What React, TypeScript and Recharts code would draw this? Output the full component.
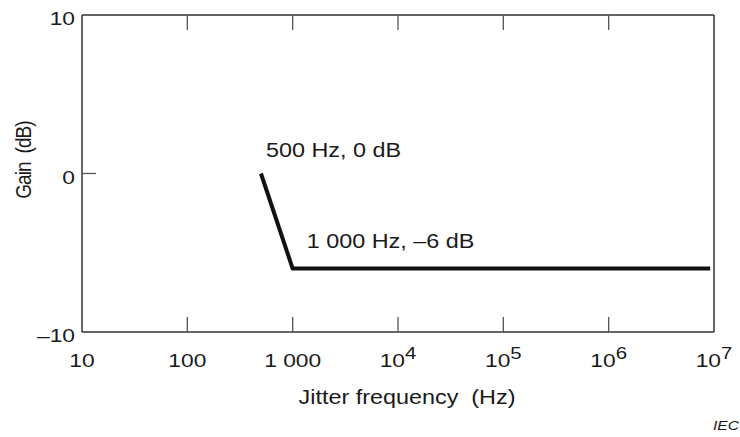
import { LineChart, Line, XAxis, YAxis, ReferenceDot } from "recharts";

// response: 0 dB at 500 Hz, down to -6 dB at 1 kHz, then flat
const freqs = [500, 1000, 9.2e6];
const gains = [0, -6, -6];

const xTicks = [10, 100, 1000, 1e4, 1e5, 1e6, 1e7];
const xTickBase = ["10", "100", "1 000", "10", "10", "10", "10"];
const xTickExp = ["", "", "", "4", "5", "6", "7"];

const yTicks = [-10, 0, 10];
const yTickLabels = ["\u201310", "0", "10"];

const FONT = "'Liberation Sans', Arial, Helvetica, sans-serif";
const INK = "#1a1a1a";
const SX = 1.2; // the source figure is stretched sideways

// plot box edges
const LEFT = 82;
const RIGHT = 714;
const TOP = 15;
const BOTTOM = 332;
const TICK = 15;

const data = freqs.map((f, i) => ({ f, g: gains[i] }));

const SText = ({ x, y, size, anchor = "start", italic = false, children }: any) => (
  <text
    x={0}
    y={0}
    transform={`translate(${x},${y}) scale(${SX},1)`}
    textAnchor={anchor}
    fontFamily={FONT}
    fontSize={size}
    fontStyle={italic ? "italic" : "normal"}
    fill={INK}
    style={{ whiteSpace: "pre" }}
  >
    {children}
  </text>
);

const tickStroke = { stroke: "#555", strokeWidth: 1.3 };

const BottomTick = (props: any) => {
  const { x, payload } = props;
  const i = xTicks.indexOf(payload.value);
  const inner = i > 0 && i < xTicks.length - 1;
  return (
    <g>
      {inner && <line x1={x} x2={x} y1={BOTTOM} y2={BOTTOM - TICK} {...tickStroke} />}
      <SText x={x} y={367} size={19} anchor="middle">
        {xTickBase[i]}
        {xTickExp[i] && (
          <tspan dy={-8} fontSize={17}>
            {xTickExp[i]}
          </tspan>
        )}
      </SText>
    </g>
  );
};

const TopTick = (props: any) => {
  const { x, payload } = props;
  const i = xTicks.indexOf(payload.value);
  if (i <= 0 || i >= xTicks.length - 1) return <g />;
  return <line x1={x} x2={x} y1={TOP} y2={TOP + TICK} {...tickStroke} />;
};

const LeftTick = (props: any) => {
  const { y, payload } = props;
  const i = yTicks.indexOf(payload.value);
  return (
    <g>
      {payload.value === 0 && (
        <line x1={LEFT} x2={LEFT + TICK - 1} y1={y} y2={y} {...tickStroke} />
      )}
      <SText x={75} y={y + 10} size={19} anchor="end">
        {yTickLabels[i]}
      </SText>
    </g>
  );
};

const RightTick = (props: any) => {
  const { y, payload } = props;
  if (payload.value !== 0) return <g />;
  return <line x1={RIGHT} x2={RIGHT - TICK + 1} y1={y} y2={y} {...tickStroke} />;
};

const annot = (text: string, dx: number, dy: number) => (props: any) => {
  const { viewBox } = props;
  return (
    <SText x={viewBox.x + dx} y={viewBox.y + dy} size={19.5}>
      {text}
    </SText>
  );
};

const frame = { stroke: "#333", strokeWidth: 1.5 };

export default function App() {
  return (
    <div
      style={{
        position: "absolute",
        left: 0,
        top: 0,
        width: 740,
        height: 437,
        background: "#fff",
      }}
    >
      <LineChart
        width={740}
        height={437}
        data={data}
        margin={{ top: 14, right: 25, bottom: 75, left: 0 }}
      >
        <XAxis
          dataKey="f"
          type="number"
          scale="log"
          domain={[10, 1e7]}
          ticks={xTicks}
          interval={0}
          height={30}
          axisLine={frame}
          tickLine={false}
          tick={<BottomTick />}
          label={() => (
            <SText x={407} y={404} size={19.5} anchor="middle">
              Jitter frequency  (Hz)
            </SText>
          )}
        />
        <XAxis
          xAxisId="top"
          orientation="top"
          dataKey="f"
          type="number"
          scale="log"
          domain={[10, 1e7]}
          ticks={xTicks}
          interval={0}
          height={1}
          axisLine={frame}
          tickLine={false}
          tick={<TopTick />}
        />
        <YAxis
          type="number"
          domain={[-10, 10]}
          ticks={yTicks}
          interval={0}
          width={82}
          axisLine={frame}
          tickLine={false}
          tick={<LeftTick />}
          label={() => (
            <text
              x={0}
              y={0}
              transform={`translate(23,160) scale(${SX},1) rotate(-90)`}
              textAnchor="middle"
              dominantBaseline="central"
              fontFamily={FONT}
              fontSize={19}
              letterSpacing={-0.9}
              fill={INK}
              style={{ whiteSpace: "pre" }}
            >
              Gain  (dB)
            </text>
          )}
        />
        <YAxis
          yAxisId="right"
          orientation="right"
          type="number"
          domain={[-10, 10]}
          ticks={yTicks}
          interval={0}
          width={1}
          axisLine={frame}
          tickLine={false}
          tick={<RightTick />}
        />
        <Line
          dataKey="g"
          type="linear"
          stroke="#111"
          strokeWidth={4}
          strokeLinejoin="round"
          dot={false}
          isAnimationActive={false}
        />
        <ReferenceDot
          x={500}
          y={0}
          r={0}
          fill="none"
          stroke="none"
          label={annot("500 Hz, 0 dB", 5, -17)}
        />
        <ReferenceDot
          x={1000}
          y={-6}
          r={0}
          fill="none"
          stroke="none"
          label={annot("1 000 Hz, \u20136 dB", 14, -21)}
        />
      </LineChart>
      <svg
        width={740}
        height={437}
        style={{ position: "absolute", left: 0, top: 0, pointerEvents: "none" }}
      >
        <SText x={713} y={430} size={13} italic>
          IEC
        </SText>
      </svg>
    </div>
  );
}
